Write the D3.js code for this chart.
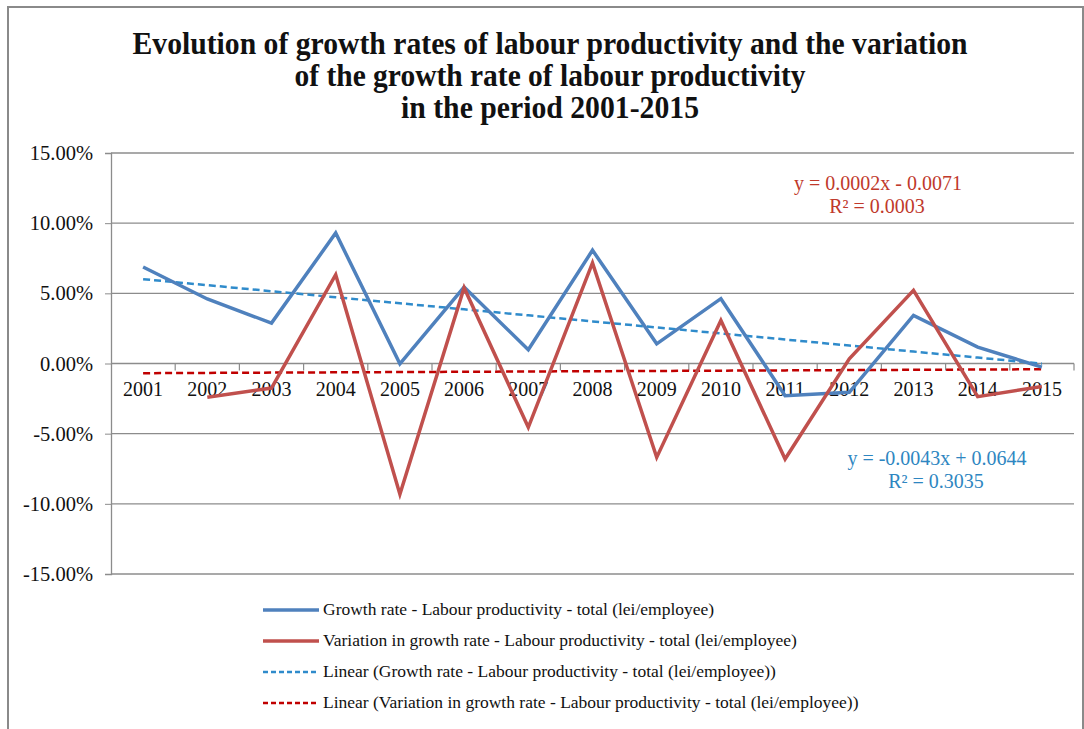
<!DOCTYPE html>
<html><head><meta charset="utf-8">
<script src="https://cdn.jsdelivr.net/npm/d3@7/dist/d3.min.js"></script>
<style>html,body{margin:0;padding:0;background:#fff;}svg{display:block;}</style>
</head><body>
<svg id="chart" width="1084" height="729"></svg>
<script>
const years = ["2001","2002","2003","2004","2005","2006","2007","2008","2009","2010","2011","2012","2013","2014","2015"];
const growthRate = [0.0688,0.0460,0.0288,0.0930,-0.0002,0.0545,0.0098,0.0807,0.0140,0.0462,-0.0229,-0.0205,0.0343,0.0117,-0.0026];
const variation = [null,-0.0240,-0.0175,0.0633,-0.0931,0.0540,-0.0455,0.0717,-0.0669,0.0307,-0.0681,0.0033,0.0521,-0.0236,-0.0164];
const yTicks = [0.15,0.10,0.05,0,-0.05,-0.10,-0.15];
const trendGrowth = {slope:-0.0043, intercept:0.0644, eq:"y = -0.0043x + 0.0644", r2:"R² = 0.3035"};
const trendVar = {slope:0.0002, intercept:-0.0071, eq:"y = 0.0002x - 0.0071", r2:"R² = 0.0003"};
const titleLines = ["Evolution  of growth rates of labour productivity and the variation","of the growth rate of labour productivity","in the period 2001-2015"];
const legendLabels = ["Growth rate - Labour productivity - total (lei/employee)","Variation in growth rate - Labour productivity - total (lei/employee)","Linear (Growth rate - Labour productivity - total (lei/employee))","Linear (Variation in growth rate - Labour productivity - total (lei/employee))"];

const svg = d3.select("#chart");
const serif = "'Liberation Serif','Times New Roman',serif";
const L = 111, R = 1074, T = 153, B = 574;
const blue = "#4F81BD", red = "#C0504D", blueDash = "#2F8BCB", redDash = "#C00000";

svg.append("rect").attr("x",8).attr("y",7).attr("width",1075).attr("height",740)
  .attr("fill","#fff").attr("stroke","#8a8a8a").attr("stroke-width",2);

// title
const tW = [835, 511, 298];
const tY = [54, 86, 118];
titleLines.forEach((t,i)=>{
  svg.append("text").attr("x",550).attr("y",tY[i]).attr("text-anchor","middle")
    .attr("font-family",serif).attr("font-weight","bold").attr("font-size",31)
    .attr("textLength",tW[i]).attr("lengthAdjust","spacingAndGlyphs")
    .attr("fill","#111").text(t);
});

const x = d3.scaleBand().domain(years).range([L,R]);
const y = d3.scaleLinear().domain([-0.15,0.15]).range([B,T]);
const xc = d => x(d)+x.bandwidth()/2;

// gridlines
svg.append("g").selectAll("line").data(yTicks).join("line")
  .attr("x1",L).attr("x2",R).attr("y1",d=>y(d)).attr("y2",d=>y(d))
  .attr("stroke","#8c8c8c").attr("stroke-width",1.3);

// y axis
const yAxis = d3.axisLeft(y).tickValues(yTicks).tickSize(6).tickPadding(12)
  .tickFormat(d=>(d*100).toFixed(2)+"%");
const gy = svg.append("g").attr("transform",`translate(${L},0)`).call(yAxis);
gy.select(".domain").attr("stroke","#8c8c8c").attr("stroke-width",1.3);
gy.selectAll(".tick line").attr("stroke","#8c8c8c");
gy.selectAll(".tick text").attr("font-family",serif).attr("font-size",20.5).attr("fill","#111");

// x axis at zero
const xAxis = d3.axisBottom(x).tickSize(0).tickPadding(18);
const gx = svg.append("g").attr("transform",`translate(0,${y(0)})`).call(xAxis);
gx.select(".domain").remove();
gx.selectAll(".tick text").attr("font-family",serif).attr("font-size",20).attr("fill","#111");
// category boundary ticks
svg.append("g").selectAll("line").data(years.slice(1).concat(["end"])).join("line")
  .attr("x1",(d,i)=>L+(i+1)*x.step()).attr("x2",(d,i)=>L+(i+1)*x.step())
  .attr("y1",y(0)).attr("y2",y(0)+7).attr("stroke","#8c8c8c").attr("stroke-width",1.2);

// trend lines
function trendPts(tr){ return years.map((yr,i)=>[xc(yr), y(tr.slope*(i+1)+tr.intercept)]); }
svg.append("path").attr("d",d3.line()(trendPts(trendVar))).attr("fill","none")
  .attr("stroke",redDash).attr("stroke-width",2.5).attr("stroke-dasharray","7,4");
svg.append("path").attr("d",d3.line()(trendPts(trendGrowth))).attr("fill","none")
  .attr("stroke",blueDash).attr("stroke-width",2.5).attr("stroke-dasharray","7,4");

// series
const line = d3.line().defined(d=>d.v!==null).x(d=>xc(d.k)).y(d=>y(d.v));
svg.append("path").attr("d",line(years.map((k,i)=>({k,v:growthRate[i]})))).attr("fill","none")
  .attr("stroke",blue).attr("stroke-width",3.5).attr("stroke-linejoin","miter");
svg.append("path").attr("d",line(years.map((k,i)=>({k,v:variation[i]})))).attr("fill","none")
  .attr("stroke",red).attr("stroke-width",3.5).attr("stroke-linejoin","miter");

// equations
svg.append("text").attr("x",878).attr("y",190).attr("text-anchor","middle").attr("font-family",serif)
  .attr("font-size",20).attr("fill","#C0392B").text(trendVar.eq);
svg.append("text").attr("x",877).attr("y",213).attr("text-anchor","middle").attr("font-family",serif)
  .attr("font-size",20).attr("fill","#C0392B").text(trendVar.r2);
svg.append("text").attr("x",937).attr("y",465).attr("text-anchor","middle").attr("font-family",serif)
  .attr("font-size",20).attr("fill","#2E86C1").text(trendGrowth.eq);
svg.append("text").attr("x",936).attr("y",488).attr("text-anchor","middle").attr("font-family",serif)
  .attr("font-size",20).attr("fill","#2E86C1").text(trendGrowth.r2);

// legend
const lgY = [610, 641, 672, 703];
const lgStyle = [{c:blue,d:null,w:3.5},{c:red,d:null,w:3.5},{c:blueDash,d:"5,3",w:2.5},{c:redDash,d:"5,3",w:2.5}];
legendLabels.forEach((t,i)=>{
  svg.append("line").attr("x1",263).attr("x2",319).attr("y1",lgY[i]).attr("y2",lgY[i])
    .attr("stroke",lgStyle[i].c).attr("stroke-width",lgStyle[i].w).attr("stroke-dasharray",lgStyle[i].d);
  svg.append("text").attr("x",323).attr("y",lgY[i]+5).attr("font-family",serif)
    .attr("font-size",17.5).attr("fill","#111").text(t);
});
</script>
</body></html>
